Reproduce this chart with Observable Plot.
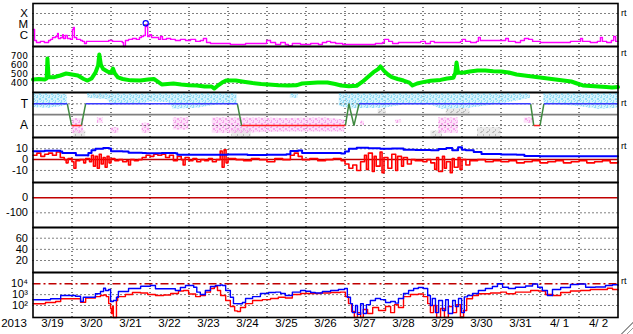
<!DOCTYPE html>
<html><head><meta charset="utf-8">
<script src="https://cdn.jsdelivr.net/npm/d3@7"></script>
<script src="https://cdn.jsdelivr.net/npm/@observablehq/plot@0.6"></script>
<style>
body{margin:0;background:#fff;}
#chart{position:relative;width:633px;height:334px;overflow:hidden;background:#fff;font-family:"Liberation Sans",Arial,sans-serif;}
#chart svg{position:absolute;left:0;}
#grip{position:absolute;right:0;bottom:0;width:16px;height:16px;
 background:repeating-linear-gradient(135deg,#fff 0 2px,#9a9a9a 2px 3px,#fff 3px 4px);
 clip-path:polygon(100% 0,100% 100%,0 100%);}
</style></head><body>
<svg width="0" height="0" style="position:absolute">
 <defs>
  <pattern id="spkBlue" width="6" height="5" patternUnits="userSpaceOnUse">
   <rect x="0" y="0" width="2" height="1" fill="#90dcf6"/><rect x="3" y="1" width="2" height="2" fill="#90dcf6"/>
   <rect x="5" y="3" width="1" height="1" fill="#90dcf6"/><rect x="1" y="3" width="1" height="2" fill="#90dcf6"/>
   <rect x="4" y="4" width="1" height="1" fill="#90dcf6"/>
  </pattern>
  <pattern id="spkPink" width="6" height="5" patternUnits="userSpaceOnUse">
   <rect x="0" y="0" width="2" height="1" fill="#f6a6ec"/><rect x="3" y="1" width="2" height="2" fill="#f6a6ec"/>
   <rect x="5" y="3" width="1" height="1" fill="#f6a6ec"/><rect x="1" y="3" width="1" height="2" fill="#f6a6ec"/>
  </pattern>
  <pattern id="spkGray" width="6" height="5" patternUnits="userSpaceOnUse">
   <rect x="0" y="0" width="2" height="1" fill="#bdbdbd"/><rect x="3" y="2" width="1" height="2" fill="#bdbdbd"/>
   <rect x="1" y="4" width="2" height="1" fill="#bdbdbd"/>
  </pattern>
 </defs>
</svg>
<div id="chart"><div id="grip"></div></div>
<script>
// ---- x axis (days since 2013-03-19 00:00) ----
const yearLabel = "2013";
const dayLabels = ["3/19","3/20","3/21","3/22","3/23","3/24","3/25","3/26","3/27","3/28","3/29","3/30","3/31","4/ 1","4/ 2"];

// ---- panel 1: X-ray flux (W/m2) ----
const xrayTicks = [1e-4, 1e-5, 1e-6];
const xrayTickLabels = ["X", "M", "C"];
const xray = [
[0.00,3.5e-6],[0.04,3.5e-7],[0.09,2.3e-7],[0.19,2.9e-7],[0.29,2.3e-7],[0.40,3.5e-7],[0.45,4.4e-7],[0.50,6.6e-7],[0.58,8.1e-7],[0.63,1.5e-6],[0.65,5.4e-7],[0.71,6.6e-7],[0.76,1.2e-6],[0.78,5.4e-7],[0.83,1.0e-6],[0.88,5.4e-7],[0.96,4.4e-7],[1.01,3.5e-6],[1.04,5.4e-6],[1.06,6.6e-7],[1.12,4.4e-7],[1.22,3.5e-7],[1.27,2.9e-7],[1.32,1.9e-7],[1.37,2.9e-7],[1.60,2.9e-7],[1.72,2.9e-7],[1.85,2.9e-7],[1.94,3.5e-7],[2.04,2.9e-7],[2.19,2.9e-7],[2.29,2.3e-7],[2.32,1.0e-7],[2.37,3.5e-7],[2.45,4.4e-7],[2.55,5.4e-7],[2.65,4.4e-7],[2.73,6.6e-7],[2.78,8.1e-7],[2.83,1.0e-6],[2.88,6.6e-6],[2.91,1.0e-5],[2.94,8.1e-7],[2.99,1.2e-6],[3.04,6.6e-7],[3.14,6.6e-7],[3.22,4.4e-7],[3.27,8.1e-7],[3.32,4.4e-7],[3.42,5.4e-7],[3.53,4.4e-7],[3.65,3.5e-7],[3.78,4.4e-7],[3.91,3.5e-7],[4.04,4.4e-7],[4.17,2.9e-7],[4.29,3.5e-7],[4.37,5.4e-7],[4.45,2.3e-7],[4.55,1.9e-7],[4.81,1.9e-7],[4.99,1.9e-7],[5.06,1.5e-7],[5.32,1.5e-7],[5.45,1.9e-7],[5.71,1.9e-7],[5.88,1.9e-7],[5.99,3.5e-7],[6.09,2.3e-7],[6.22,1.5e-7],[6.35,2.3e-7],[6.47,1.5e-7],[6.55,1.2e-7],[6.65,1.9e-7],[6.86,1.5e-7],[7.12,1.9e-7],[7.32,1.5e-7],[7.42,2.3e-7],[7.53,2.9e-7],[7.63,2.3e-7],[7.76,1.9e-7],[7.94,1.5e-7],[8.14,1.5e-7],[8.40,1.5e-7],[8.65,1.5e-7],[8.78,1.9e-7],[8.96,2.3e-7],[9.01,4.4e-7],[9.12,2.9e-7],[9.22,1.9e-7],[9.37,2.3e-7],[9.55,2.3e-7],[9.73,2.3e-7],[9.94,2.9e-7],[10.06,1.9e-7],[10.19,2.9e-7],[10.29,2.3e-7],[10.58,2.3e-7],[10.83,2.3e-7],[10.96,2.9e-7],[11.01,4.4e-7],[11.09,2.9e-7],[11.22,2.3e-7],[11.37,2.9e-7],[11.42,6.6e-7],[11.47,3.5e-7],[11.99,3.5e-7],[12.12,5.4e-7],[12.19,2.9e-7],[12.37,2.3e-7],[12.50,3.5e-7],[12.60,5.4e-7],[12.71,4.4e-7],[12.81,2.9e-7],[13.01,2.3e-7],[13.53,2.3e-7],[13.78,2.9e-7],[13.99,2.9e-7],[14.04,5.4e-7],[14.09,2.9e-7],[14.29,2.3e-7],[14.47,2.9e-7],[14.55,6.6e-7],[14.60,2.9e-7],[14.71,2.3e-7],[14.83,3.5e-7],[14.89,8.1e-7],[14.94,2.9e-7],[15.00,2.9e-7]
];
const flarePeak = [[2.89, 1.3e-5]];

// ---- panel 2: solar wind speed (km/s) ----
const speedTicks = [700, 600, 500, 400];
const speed = [
[0.00,444],[0.15,450],[0.30,444],[0.35,455],[0.37,678],[0.40,470],[0.55,470],[0.70,489],[0.85,511],[1.00,500],[1.15,489],[1.30,450],[1.40,433],[1.50,455],[1.60,520],[1.67,600],[1.70,722],[1.74,610],[1.80,560],[1.92,530],[2.00,520],[2.05,567],[2.10,510],[2.18,467],[2.30,450],[2.50,435],[2.75,433],[2.95,444],[3.10,450],[3.20,420],[3.30,389],[3.45,395],[3.60,400],[3.80,389],[4.00,380],[4.20,378],[4.40,367],[4.58,367],[4.65,344],[4.72,370],[4.85,410],[4.95,433],[5.20,433],[5.40,420],[5.63,405],[5.85,395],[6.04,389],[6.30,380],[6.55,378],[6.75,380],[6.90,400],[7.10,405],[7.30,411],[7.55,411],[7.75,395],[7.90,378],[8.10,370],[8.30,375],[8.45,420],[8.58,470],[8.73,526],[8.85,560],[8.91,590],[9.00,540],[9.10,500],[9.20,470],[9.35,450],[9.50,433],[9.65,410],[9.73,378],[9.85,400],[10.00,415],[10.20,430],[10.45,440],[10.62,456],[10.78,465],[10.83,520],[10.86,633],[10.90,520],[11.05,522],[11.20,533],[11.40,544],[11.60,544],[11.80,535],[12.00,533],[12.20,522],[12.40,500],[12.60,489],[12.80,478],[13.00,467],[13.20,456],[13.40,444],[13.60,433],[13.80,422],[13.95,400],[14.10,378],[14.30,372],[14.50,367],[14.70,360],[14.85,355],[15.00,360]
];

// ---- panel 3: sector polarity (T = toward = 1, A = away = -1) ----
const sectorTicks = [1, -1];
const sectorTickLabels = ["T", "A"];
const sectorModel = [[0,1],[0.88,1],[0.99,-1],[1.24,-1],[1.35,1],[5.24,1],[5.35,-1],[8.01,-1],[8.10,1],[8.23,-1],[8.36,1],[12.76,1],[12.84,-1],[13.00,-1],[13.10,1],[15,1]];
const towardCloud = [[0,0.66,1.95],[0.4,0.6,1.95],[0.75,0.75,1.9],[0.88,0.9,1.8],[0.9,NaN,NaN],[1.4,1.5,1.95],[1.9,1.4,1.95],[2.0,1.0,1.95],[2.8,1.0,1.9],[3.0,1.2,1.95],[3.5,1.1,1.95],[3.6,0.5,1.95],[4.2,0.6,1.95],[4.7,0.9,2.0],[5.24,1.0,1.95],[5.3,NaN,NaN],[6.6,1.5,1.9],[6.8,1.5,1.9],[6.85,NaN,NaN],[7.85,0.8,1.95],[8.1,0.55,2.0],[9.0,0.6,1.95],[9.5,0.9,1.95],[10.2,0.9,1.95],[10.5,0.5,1.95],[11.2,0.6,1.95],[12.0,1.0,1.95],[12.6,1.4,1.95],[12.75,1.5,1.9],[12.8,NaN,NaN],[13.1,1.0,1.95],[13.9,0.8,1.95],[14.5,0.5,1.95],[15,0.6,1.95]];
const awayCloud = [[1.0,-0.35,-1.7],[1.3,-0.4,-1.7],[1.35,NaN,NaN],[1.65,-0.3,-0.8],[1.8,-0.3,-0.8],[1.85,NaN,NaN],[2.0,-1.2,-1.7],[2.2,-1.2,-1.7],[2.25,NaN,NaN],[2.8,-0.8,-1.7],[3.0,-0.8,-1.7],[3.05,NaN,NaN],[3.6,-0.3,-1.4],[4.0,-0.3,-1.4],[4.05,NaN,NaN],[4.6,-0.3,-1.7],[5.3,-0.3,-1.7],[6.5,-0.35,-1.6],[7.5,-0.3,-1.6],[8.0,-0.5,-1.6],[8.05,NaN,NaN],[8.4,-0.6,-1.0],[8.5,-0.6,-1.0],[8.55,NaN,NaN],[9.3,-0.5,-0.8],[9.45,-0.5,-0.8],[9.5,NaN,NaN],[10.4,-0.3,-1.7],[10.9,-0.3,-1.7],[10.95,NaN,NaN],[12.6,-0.3,-0.8],[12.85,-0.3,-0.8]];
const mixedCloud = [[1.05,-1.5,-2.0],[1.35,-1.5,-2.0],[1.4,NaN,NaN],[1.55,1.5,1.95],[1.85,1.5,1.95],[1.9,NaN,NaN],[5.1,-1.3,-2.05],[5.6,-1.3,-2.05],[5.65,NaN,NaN],[8.85,0.0,0.5],[9.05,0.0,0.5],[9.1,NaN,NaN],[10.2,-1.5,-2.05],[10.5,-1.5,-2.05],[10.55,NaN,NaN],[10.6,0.0,0.55],[11.2,0.0,0.55],[11.25,NaN,NaN],[11.4,-1.2,-2.0],[12.0,-1.2,-2.0]];

// ---- panel 4: IMF Bt (blue) and Bz (red), nT ----
const imfTicks = [10, 0, -10];
const bt = [[0,7.8],[0.3,8.2],[0.7,7.5],[0.75,6.2],[1.0,6.0],[1.1,4.0],[1.4,3.8],[1.42,6],[1.5,8.6],[1.6,10.0],[1.8,10.8],[1.95,10.2],[2.0,7.8],[2.3,7.4],[2.45,6.4],[2.8,6.2],[2.9,5.8],[3.3,6.0],[3.65,5.8],[3.7,4.6],[4.2,4.4],[4.6,4.6],[5.0,4.8],[5.5,4.2],[6.0,4.4],[6.5,5.0],[6.6,8.0],[6.8,8.4],[6.9,6.2],[7.5,6.0],[7.9,5.6],[8.0,7.5],[8.1,10.0],[8.3,11.0],[8.6,10.6],[8.9,10.0],[9.2,10.2],[9.5,9.0],[9.8,8.8],[10.2,8.6],[10.4,9.8],[10.6,10.8],[10.75,8.6],[10.9,11.5],[11.0,9.0],[11.1,8.6],[11.3,7.0],[11.5,5.2],[12.0,4.8],[12.4,4.6],[12.6,3.4],[13.0,3.2],[13.5,3.0],[14.0,3.2],[14.5,3.0],[15.0,3.2]];
const bz = [[0,4],[0.1,6],[0.2,3],[0.3,5],[0.4,6],[0.5,4],[0.6,7],[0.7,2],[0.8,0],[0.85,-3],[0.9,1],[1.0,-2],[1.05,-8],[1.1,-1],[1.2,0],[1.3,-3],[1.35,1],[1.45,-2],[1.5,4],[1.55,-6],[1.6,3],[1.65,-8],[1.7,5],[1.75,-4],[1.8,2],[1.85,-7],[1.9,3],[1.95,-3],[2.0,1],[2.1,-1],[2.2,0],[2.3,-2],[2.4,-1],[2.45,-5],[2.5,0],[2.6,-1],[2.7,0],[2.8,2],[2.9,4],[3.0,3],[3.1,5],[3.2,4],[3.3,5],[3.4,2],[3.5,4],[3.6,-1],[3.7,3],[3.8,0],[3.85,-5],[3.9,2],[4.0,-1],[4.1,1],[4.2,-2],[4.3,0],[4.4,-1],[4.5,1],[4.6,-2],[4.7,0],[4.8,8],[4.85,-7],[4.9,9],[4.95,-3],[5.0,1],[5.2,0],[5.4,-1],[5.6,1],[5.8,0],[6.0,-2],[6.2,1],[6.4,0],[6.6,4],[6.7,6],[6.8,3],[6.9,0],[7.1,1],[7.3,-1],[7.5,0],[7.7,1],[7.9,-1],[8.0,-4],[8.1,-8],[8.2,-5],[8.3,-10],[8.4,-2],[8.5,4],[8.55,-9],[8.6,6],[8.7,-11],[8.75,3],[8.8,-6],[8.9,7],[8.95,-12],[9.0,2],[9.1,-8],[9.2,5],[9.3,-10],[9.35,3],[9.45,-6],[9.5,2],[9.6,-4],[9.7,0],[9.8,-1],[10.0,-2],[10.1,0],[10.2,-3],[10.3,-9],[10.35,2],[10.4,-11],[10.5,3],[10.55,-8],[10.6,-2],[10.7,-12],[10.75,1],[10.8,-7],[10.9,2],[10.95,-9],[11.0,0],[11.1,-5],[11.2,-1],[11.4,0],[11.6,-2],[11.8,-1],[12.0,-2],[12.2,-1],[12.4,-3],[12.6,-2],[12.8,-1],[13.0,-3],[13.2,-2],[13.4,-1],[13.6,-3],[13.8,-2],[14.0,-1],[14.2,-3],[14.4,-2],[14.6,-1],[14.8,-3],[15.0,-2]];

// ---- panel 5 & 6: empty panels ----
const p5Ticks = [0, -100];
const p6Ticks = [60, 40, 20];

// ---- panel 7: electron flux (log) ----
const eTicks = [1e4, 1e3, 1e2];
const eTickLabels = ["10\u2074", "10\u00B3", "10\u00B2"];
const eAlert = [1e4];
const eHigh = [[0,335],[0.32,335],[0.45,415],[0.71,830],[1.09,720],[1.22,235],[1.29,580],[1.60,1200],[1.73,1950],[1.81,3900],[1.86,2400],[1.94,3000],[1.99,235],[2.06,290],[2.14,580],[2.19,1950],[2.45,3700],[2.76,6000],[3.01,6900],[3.14,3450],[3.27,3450],[3.65,2400],[3.78,4500],[3.91,6900],[4.12,4870],[4.20,1690],[4.29,1030],[4.42,2400],[4.55,5600],[4.68,6900],[4.81,7700],[4.86,6900],[4.94,2400],[5.06,580],[5.14,150],[5.24,145],[5.37,190],[5.45,440],[5.63,660],[5.83,1290],[6.04,1600],[6.22,1690],[6.35,1290],[6.47,830],[6.65,1690],[6.86,2400],[6.99,2050],[7.12,1600],[7.24,1420],[7.42,1950],[7.63,2400],[7.83,3000],[7.99,3700],[8.06,580],[8.14,150],[8.19,22],[8.27,100],[8.32,15],[8.40,145],[8.47,18],[8.55,120],[8.65,290],[8.78,440],[8.91,350],[9.04,190],[9.17,235],[9.29,165],[9.37,440],[9.50,1290],[9.63,2400],[9.76,3700],[9.88,4500],[10.01,3700],[10.12,830],[10.19,100],[10.24,440],[10.32,22],[10.40,290],[10.50,35],[10.58,335],[10.65,18],[10.76,290],[10.83,80],[10.91,440],[10.99,22],[11.06,620],[11.14,830],[11.27,1290],[11.42,2400],[11.60,3700],[11.78,5600],[11.91,10000],[12.04,4870],[12.19,3700],[12.37,4870],[12.63,6300],[12.81,9600],[12.94,4870],[13.06,2400],[13.19,830],[13.32,3000],[13.53,4500],[13.78,8500],[13.99,9600],[14.17,4870],[14.42,5100],[14.68,6900],[14.86,8100],[15.00,6900]];
const eLow = [[0,145],[0.32,190],[0.58,235],[0.71,415],[1.09,415],[1.22,200],[1.35,490],[1.60,660],[1.73,830],[1.81,930],[1.88,660],[1.94,150],[1.99,52],[2.01,18],[2.04,80],[2.06,5],[2.12,5],[2.14,290],[2.17,660],[2.37,1030],[2.55,1600],[2.76,1420],[2.94,1030],[3.14,830],[3.35,930],[3.53,1290],[3.73,2150],[3.86,2400],[3.99,1150],[4.17,660],[4.29,830],[4.42,1690],[4.55,3700],[4.65,5600],[4.73,2400],[4.81,830],[4.94,290],[5.06,80],[5.17,32],[5.24,28],[5.32,65],[5.45,150],[5.63,290],[5.88,350],[6.09,440],[6.29,580],[6.47,490],[6.65,1030],[6.86,1290],[7.12,1290],[7.37,1420],[7.63,1600],[7.88,1690],[8.01,660],[8.09,150],[8.17,28],[8.24,5],[8.32,22],[8.40,5],[8.47,43],[8.58,18],[8.71,65],[8.86,35],[9.04,80],[9.17,22],[9.27,120],[9.37,65],[9.50,660],[9.68,1030],[9.88,1150],[10.01,660],[10.12,150],[10.19,22],[10.27,100],[10.35,5],[10.45,52],[10.55,5],[10.65,80],[10.76,22],[10.86,120],[10.96,5],[11.04,35],[11.12,415],[11.27,830],[11.42,1200],[11.73,1420],[11.99,1690],[12.14,1200],[12.37,1690],[12.76,2400],[12.96,2150],[13.14,1030],[13.32,830],[13.53,1600],[13.78,2150],[14.04,2400],[14.29,3000],[14.55,3000],[14.73,3900],[14.86,3000],[15.00,2700]];

// ---------------------------------------------------------------
const chart = document.getElementById("chart");
const dayGrid = dayLabels.slice(1).map((_, i) => i + 1);
const FONT = "Liberation Sans, Arial, sans-serif";
const grid = {stroke: "black", strokeDasharray: "1,3", strokeWidth: 1};

function leftLabels(values, labels, size = 11, family = FONT) {
  return Plot.text(values, {y: d => d, text: (d, i) => labels[i], frameAnchor: "left", textAnchor: "end", dx: -5, fontSize: size, fontFamily: family, fill: "black"});
}
function rtMark(value) {
  return Plot.text([value], {y: d => d, text: () => "rt", frameAnchor: "right", textAnchor: "start", dx: 3, fontSize: 9, fill: "black"});
}
function panel(top, height, yOpts, marks, mb = 0) {
  const svg = Plot.plot({
    width: 633, height: height + mb,
    marginLeft: 32.5, marginRight: 15.5, marginTop: 0, marginBottom: mb,
    x: {domain: [0, 15], axis: null},
    y: {axis: null, ...yOpts},
    style: {background: "transparent", overflow: "visible", fontFamily: FONT, color: "black"},
    marks: [
      Plot.ruleX(dayGrid, grid),
      ...marks,
      Plot.frame({stroke: "black", strokeWidth: 1.6})
    ]
  });
  svg.style.top = top + "px";
  chart.append(svg);
}
const cloud = (data, fill, base) => [
  Plot.areaY(data, {x: d => d[0], y1: d => d[1], y2: d => d[2], fill: base, fillOpacity: 0.55}),
  Plot.areaY(data, {x: d => d[0], y1: d => d[1], y2: d => d[2], fill})
];

// Panel 1
panel(3, 43, {type: "log", domain: [1e-7, 8.1e-4]}, [
  Plot.ruleY(xrayTicks, grid),
  Plot.line(xray, {x: d => d[0], y: d => d[1], stroke: "#ff00ff", strokeWidth: 1.4, curve: "step-after"}),
  Plot.dot(flarePeak, {x: d => d[0], y: d => d[1], r: 2.6, stroke: "#0000ff", strokeWidth: 1.2, fill: "none"}),
  leftLabels(xrayTicks, xrayTickLabels, 11.5),
  rtMark(1.1e-4)
]);

// Panel 2
panel(46, 46, {domain: [300, 811]}, [
  Plot.ruleY(speedTicks, grid),
  Plot.line(speed, {x: d => d[0], y: d => d[1], stroke: "#00ee00", strokeWidth: 4, strokeLinejoin: "round"}),
  leftLabels(speedTicks, speedTicks.map(String), 9, "DejaVu Sans, sans-serif"),
  rtMark(739)
]);

// Panel 3
const segs = sectorModel.slice(1).map((p, i) => ({x1: sectorModel[i][0], y1: sectorModel[i][1], x2: p[0], y2: p[1]}));
const linkOpts = {x1: "x1", y1: "y1", x2: "x2", y2: "y2", strokeWidth: 1.5};
panel(92, 45, {domain: [-2.1, 2.04]}, [
  ...cloud(mixedCloud, "url(#spkGray)", "#d8d8d8"),
  ...cloud(towardCloud, "url(#spkBlue)", "#b8eafb"),
  ...cloud(awayCloud, "url(#spkPink)", "#fbc6f4"),
  Plot.ruleY(sectorTicks, grid),
  Plot.ruleY([0], {stroke: "#7f7f7f", strokeWidth: 1.6}),
  Plot.link(segs.filter(s => s.y1 !== s.y2), {...linkOpts, stroke: "#3f8a3f"}),
  Plot.link(segs.filter(s => s.y1 === s.y2 && s.y1 > 0), {...linkOpts, stroke: "#3a3aff"}),
  Plot.link(segs.filter(s => s.y1 === s.y2 && s.y1 < 0), {...linkOpts, stroke: "#ff2020"}),
  leftLabels(sectorTicks, sectorTickLabels, 12),
  rtMark(1.1)
]);

// Panel 4
panel(137, 45, {domain: [-21.1, 20.4]}, [
  Plot.ruleY([10, -10], grid),
  Plot.ruleY([0], {stroke: "#c00000", strokeWidth: 1.5}),
  Plot.line(bz, {x: d => d[0], y: d => d[1], stroke: "#ff0000", strokeWidth: 1.6, curve: "step-after"}),
  Plot.line(bt, {x: d => d[0], y: d => d[1], stroke: "#0000ff", strokeWidth: 2, curve: "step-after"}),
  leftLabels(imfTicks, imfTicks.map(String), 11),
  rtMark(12.5)
]);

// Panel 5
panel(182, 45, {domain: [-198, 102]}, [
  Plot.ruleY([-100], grid),
  Plot.ruleY([0], {stroke: "#c00000", strokeWidth: 1.6}),
  leftLabels(p5Ticks, p5Ticks.map(String), 11)
]);

// Panel 6
panel(227, 45, {domain: [-1.5, 79.2]}, [
  Plot.ruleY(p6Ticks, grid),
  leftLabels(p6Ticks, p6Ticks.map(String), 11)
]);

// Panel 7 (with date axis)
panel(272, 45, {type: "log", domain: [7.8, 1.1e5], clamp: true}, [
  Plot.ruleY([1e3, 1e2], grid),
  Plot.ruleY(eAlert, {stroke: "#c00000", strokeWidth: 1.5, strokeDasharray: "8,3,2,3"}),
  Plot.line(eLow, {x: d => d[0], y: d => d[1], stroke: "#ff0000", strokeWidth: 1.4, curve: "step-after"}),
  Plot.line(eHigh, {x: d => d[0], y: d => d[1], stroke: "#0000ff", strokeWidth: 1.4, curve: "step-after"}),
  leftLabels(eTicks, eTickLabels, 11),
  rtMark(1.8e4),
  Plot.text(dayLabels, {x: (d, i) => i + 0.5, text: d => d, frameAnchor: "bottom", dy: 9, fontSize: 11.5, fill: "black"}),
  Plot.text([yearLabel], {text: d => d, frameAnchor: "bottom-left", textAnchor: "middle", dx: -19, dy: 9, fontSize: 11.5, fill: "black"})
], 17);
</script></body></html>
